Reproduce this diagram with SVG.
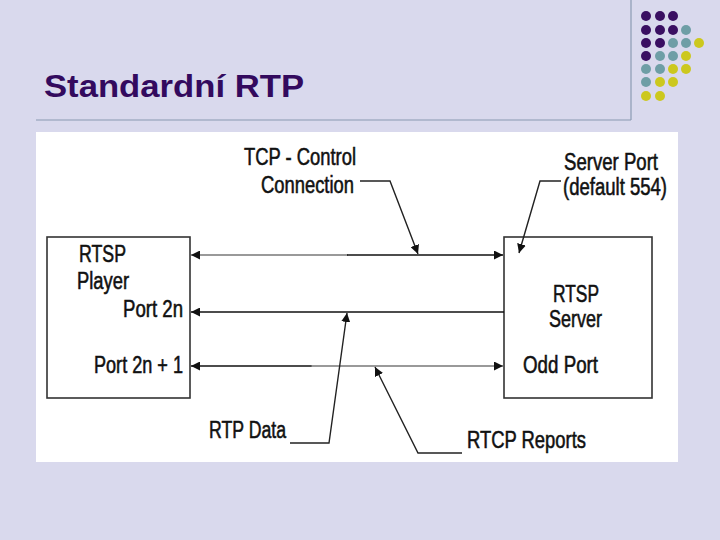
<svg xmlns="http://www.w3.org/2000/svg" width="720" height="540" viewBox="0 0 720 540">
<defs>
<style>
.lbl{font-family:"Liberation Sans",Arial,sans-serif;font-size:23px;fill:#111;stroke:#111;stroke-width:0.55;}
.box{fill:none;stroke:#333;stroke-width:1.6;}
.ln{stroke:#111;stroke-width:1.6;fill:none;}
.lg{stroke:#777;stroke-width:1.6;fill:none;}
.ld{stroke:#222;stroke-width:1.4;fill:none;}
.p{fill:#3A0F62;}
.t{fill:#6E9EA6;}
.y{fill:#CCC81E;}
</style>
<marker id="ah" viewBox="0 0 10 10" refX="10" refY="5" markerWidth="9" markerHeight="9" markerUnits="userSpaceOnUse" orient="auto">
<path d="M0,0 L10,5 L0,10 z" fill="#111"/>
</marker>
<marker id="ahs" viewBox="0 0 10 10" refX="10" refY="5" markerWidth="9" markerHeight="9" markerUnits="userSpaceOnUse" orient="auto-start-reverse">
<path d="M0,0 L10,5 L0,10 z" fill="#111"/>
</marker>
</defs>
<rect x="0" y="0" width="720" height="540" fill="#D9D9ED"/>
<g id="header">
<line x1="631" y1="0" x2="631" y2="120" stroke="#8A9AB2" stroke-width="1.2"/>
<line x1="36" y1="120" x2="631" y2="120" stroke="#8A9AB2" stroke-width="1.2"/>
<text x="44" y="97" font-family="'Liberation Sans',Arial,sans-serif" font-size="32" font-weight="bold" fill="#330A5E" textLength="260" lengthAdjust="spacingAndGlyphs">Standardní RTP</text>
</g>
<g id="logo">
<circle class="p" cx="646" cy="16" r="5"/><circle class="p" cx="660" cy="16" r="5"/><circle class="p" cx="673" cy="16" r="5"/>
<circle class="p" cx="646" cy="30" r="5"/><circle class="p" cx="660" cy="30" r="5"/><circle class="p" cx="673" cy="30" r="5"/><circle class="t" cx="686" cy="30" r="5"/>
<circle class="p" cx="646" cy="43" r="5"/><circle class="p" cx="660" cy="43" r="5"/><circle class="t" cx="673" cy="43" r="5"/><circle class="t" cx="686" cy="43" r="5"/><circle class="y" cx="699" cy="43" r="5"/>
<circle class="p" cx="646" cy="56" r="5"/><circle class="t" cx="660" cy="56" r="5"/><circle class="t" cx="673" cy="56" r="5"/><circle class="y" cx="686" cy="56" r="5"/>
<circle class="t" cx="646" cy="69" r="5"/><circle class="t" cx="660" cy="69" r="5"/><circle class="y" cx="673" cy="69" r="5"/><circle class="y" cx="686" cy="69" r="5"/>
<circle class="t" cx="646" cy="82" r="5"/><circle class="y" cx="660" cy="82" r="5"/><circle class="y" cx="673" cy="82" r="5"/>
<circle class="y" cx="646" cy="96" r="5"/><circle class="y" cx="660" cy="96" r="5"/>
</g>
<rect x="36" y="132" width="642" height="330" fill="#FFFFFF"/>
<g id="player">
<rect class="box" x="47" y="237" width="143" height="161"/>
<text class="lbl" x="79" y="262" textLength="47" lengthAdjust="spacingAndGlyphs">RTSP</text>
<text class="lbl" x="77" y="289" textLength="52" lengthAdjust="spacingAndGlyphs">Player</text>
<text class="lbl" x="123" y="317" textLength="60" lengthAdjust="spacingAndGlyphs">Port 2n</text>
<text class="lbl" x="94" y="373" textLength="89" lengthAdjust="spacingAndGlyphs">Port 2n + 1</text>
</g>
<g id="server">
<rect class="box" x="504" y="237" width="148" height="161"/>
<text class="lbl" x="553" y="302" textLength="46" lengthAdjust="spacingAndGlyphs">RTSP</text>
<text class="lbl" x="549" y="327" textLength="53" lengthAdjust="spacingAndGlyphs">Server</text>
<text class="lbl" x="523" y="373" textLength="75" lengthAdjust="spacingAndGlyphs">Odd Port</text>
</g>
<g id="labels">
<text class="lbl" x="244" y="165" textLength="112" lengthAdjust="spacingAndGlyphs">TCP - Control</text>
<text class="lbl" x="261" y="193" textLength="93" lengthAdjust="spacingAndGlyphs">Connection</text>
<text class="lbl" x="564" y="170" textLength="94" lengthAdjust="spacingAndGlyphs">Server Port</text>
<text class="lbl" x="563" y="195" textLength="104" lengthAdjust="spacingAndGlyphs">(default 554)</text>
<text class="lbl" x="209" y="438" textLength="77" lengthAdjust="spacingAndGlyphs">RTP Data</text>
<text class="lbl" x="467" y="448" textLength="119" lengthAdjust="spacingAndGlyphs">RTCP Reports</text>
</g>
<g id="connectors">
<line class="lg" x1="348" y1="255" x2="191" y2="255" marker-end="url(#ahs)"/>
<line class="ln" x1="347" y1="255" x2="503" y2="255" marker-end="url(#ahs)"/>
<line class="ln" x1="504" y1="312" x2="191" y2="312" marker-end="url(#ahs)"/>
<line class="ln" x1="312" y1="366" x2="191" y2="366" marker-end="url(#ahs)"/>
<line class="lg" x1="311" y1="366" x2="503" y2="366" marker-end="url(#ahs)"/>
<polyline class="ld" points="360,181 390,181 418,254" marker-end="url(#ah)"/>
<polyline class="ld" points="561,181 540,181 519,253" marker-end="url(#ah)"/>
<polyline class="ld" points="290,443 329,443 347,313" marker-end="url(#ah)"/>
<polyline class="ld" points="462,453 418,453 375,367" marker-end="url(#ah)"/>
</g>
</svg>
